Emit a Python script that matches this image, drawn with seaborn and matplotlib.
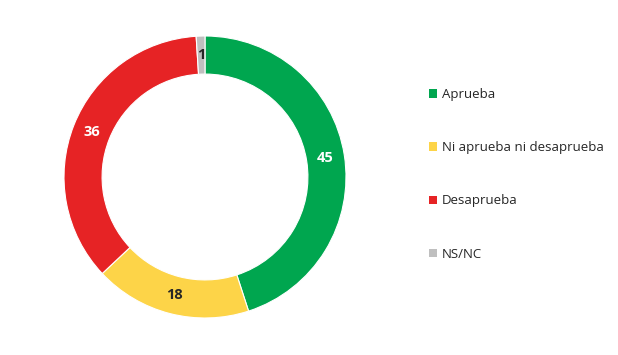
import matplotlib
matplotlib.use("Agg")
import matplotlib.pyplot as plt
import seaborn as sns
import pandas as pd
from matplotlib.patches import Patch

categories = ["Aprueba", "Ni aprueba ni desaprueba", "Desaprueba", "NS/NC"]
values = [45, 18, 36, 1]
colors = ["#00A64F", "#FDD448", "#E62325", "#BFBFBF"]
label_colors = ["white", "#262626", "white", "#262626"]

df = pd.DataFrame({"categoria": categories, "valor": values})

sns.set_theme(style="white")
plt.rcParams["font.family"] = ["Open Sans", "DejaVu Sans"]

fig = plt.figure(figsize=(6.18, 3.55), dpi=100)
W, H = 618, 355
cx, cy, R = 205, 177, 141
ax = fig.add_axes([(cx - R) / W, (H - cy - R) / H, 2 * R / W, 2 * R / H])

palette = sns.color_palette(colors)
wedges, texts, autotexts = ax.pie(
    df["valor"], colors=palette, startangle=90, counterclock=False,
    radius=1.0, wedgeprops=dict(width=0.27, edgecolor="white", linewidth=0.8),
    autopct=lambda p: f"{p:.0f}", pctdistance=0.865,
    textprops=dict(fontsize=10.5, fontweight="bold"))
for t, c in zip(autotexts, label_colors):
    t.set_color(c)
ax.set_xlim(-1, 1)
ax.set_ylim(-1, 1)
ax.set_aspect("equal")
ax.axis("off")

handles = [Patch(facecolor=c, edgecolor="none") for c in colors]
fig.legend(handles, categories, loc="upper left",
           bbox_to_anchor=(429 / W, 1 - 88 / H), frameon=False,
           fontsize=9.5, labelspacing=3.05, handlelength=0.6, handleheight=0.6,
           handletextpad=0.4, borderaxespad=0, borderpad=0)

fig.savefig("out.png", dpi=100)
